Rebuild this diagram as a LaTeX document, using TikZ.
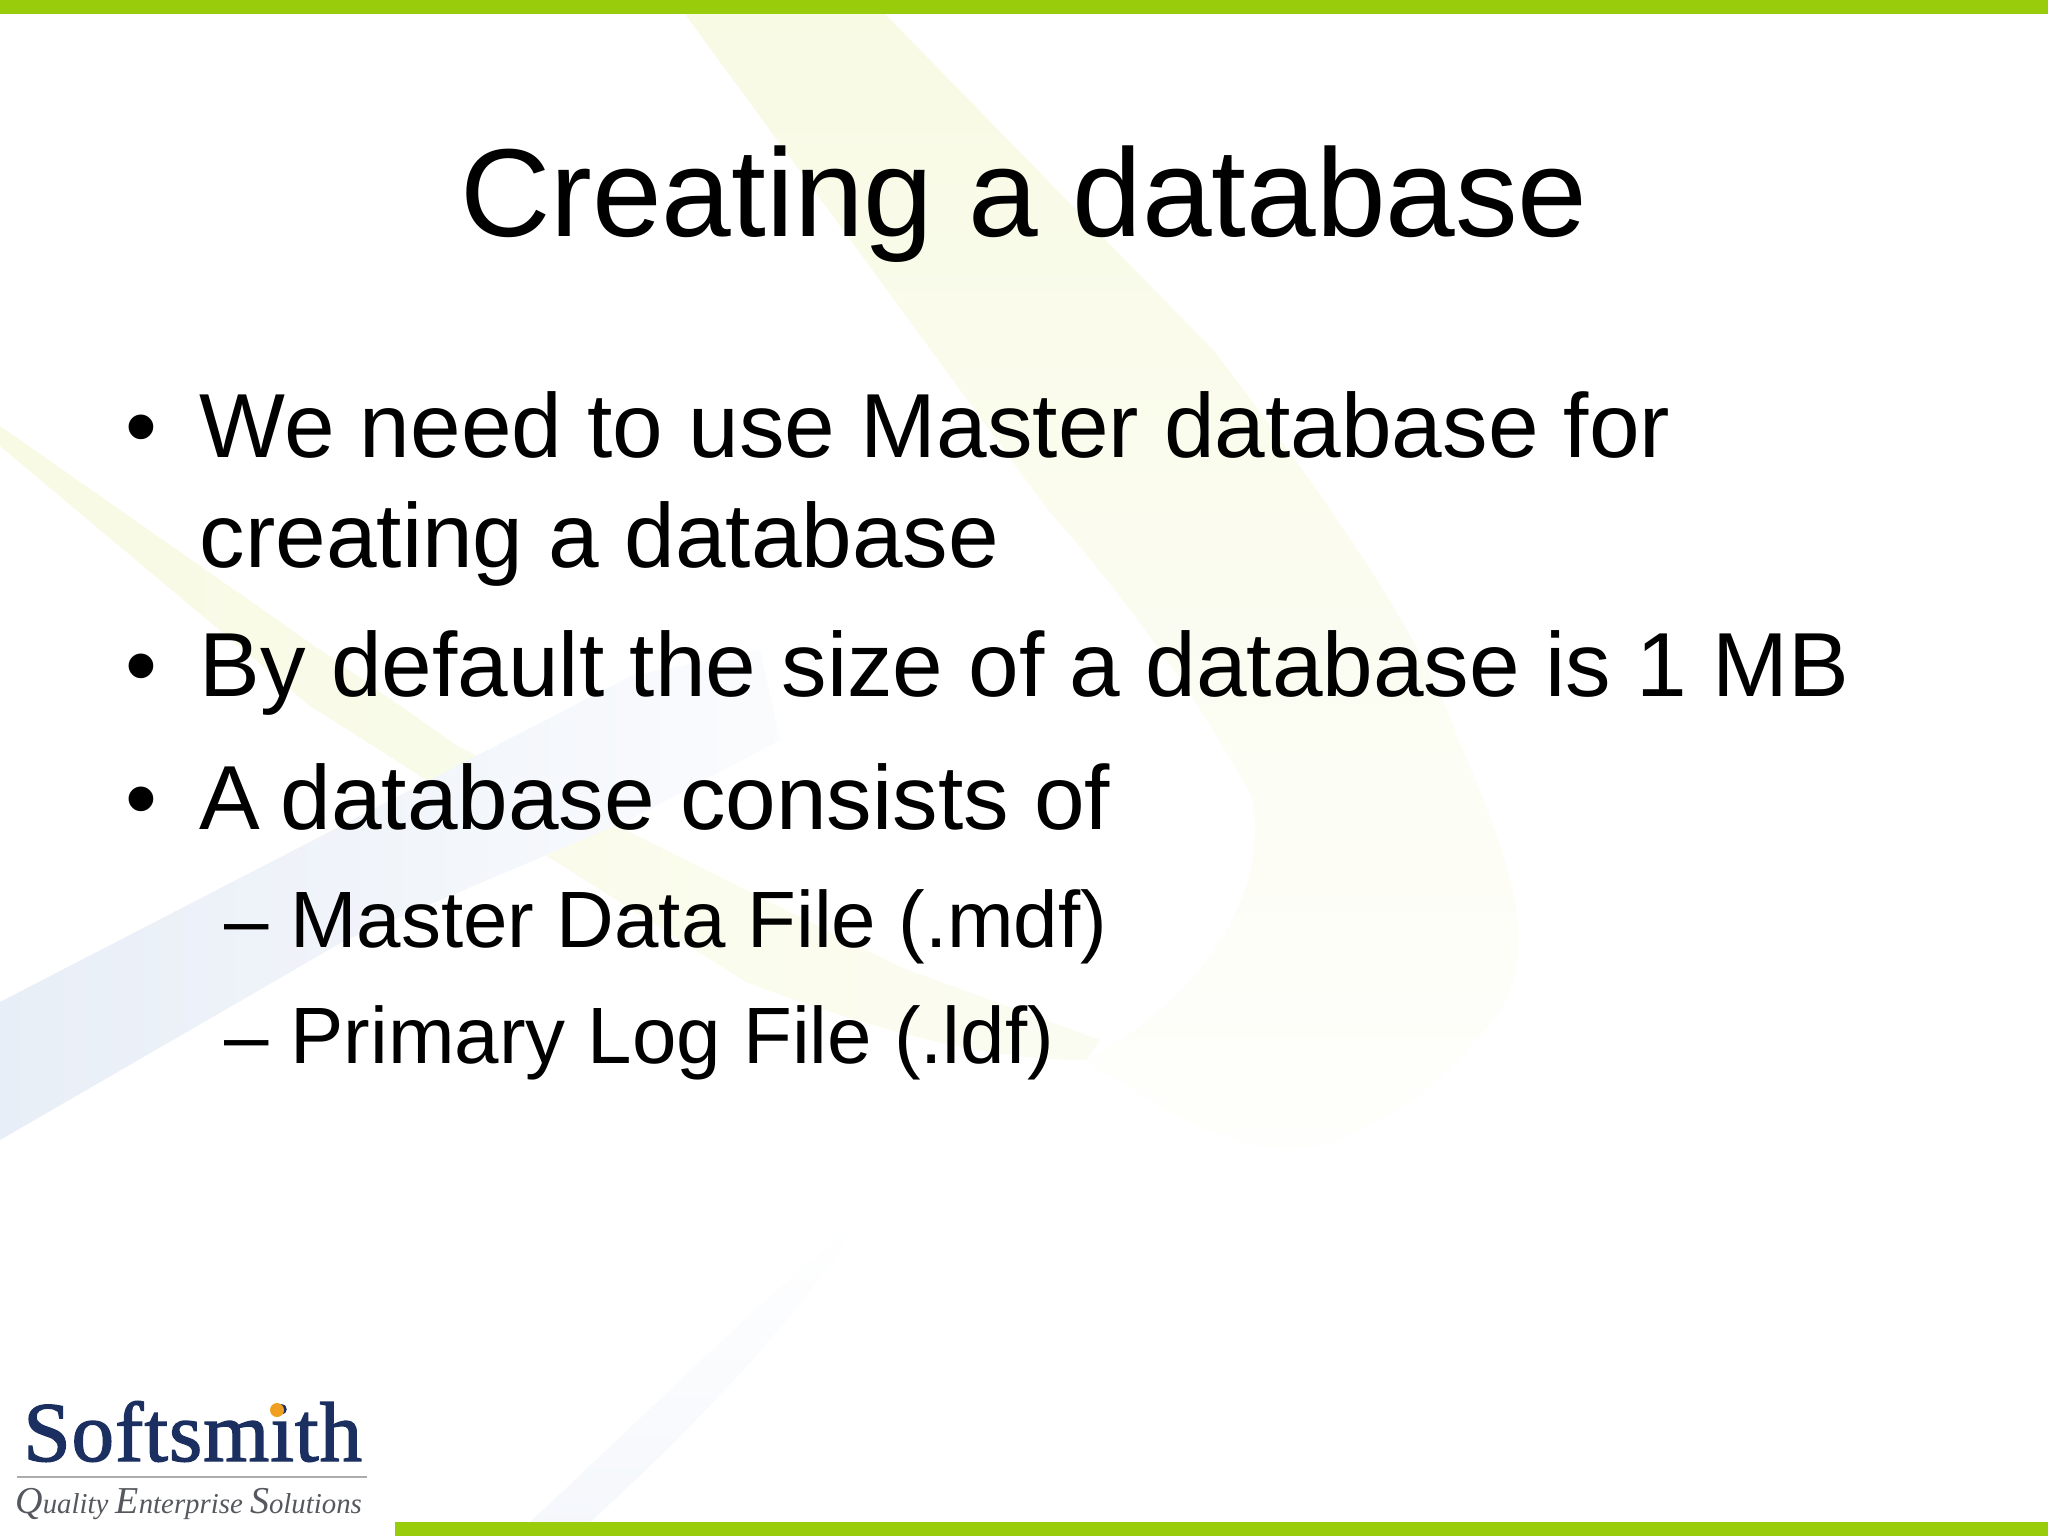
\documentclass[tikz,border=0pt]{standalone}
\usepackage{fontspec}
\usepackage{xcolor}
\setmainfont{Liberation Sans}
\newfontfamily\logofont[LetterSpace=1.2, FakeBold=1.6]{Liberation Serif}
\newfontfamily\taglinefont{Liberation Serif}
\usetikzlibrary{positioning}
\definecolor{barGreen}{HTML}{99CC0A}
\definecolor{swooshYellow}{HTML}{F8FAE4}
\definecolor{swooshBlue}{HTML}{E8EEF7}
\definecolor{logoNavy}{HTML}{1B3060}
\definecolor{logoGrey}{HTML}{55585E}
\definecolor{logoOrange}{HTML}{F0A020}

\begin{document}
\begin{tikzpicture}[x=0.5pt, y=-0.5pt,
    titletext/.style={inner sep=0pt, anchor=base, font=\fontsize{62.6}{70}\selectfont},
    bodytext/.style={inner sep=0pt, anchor=base west, font=\fontsize{45.5}{52}\selectfont},
    subtext/.style={inner sep=0pt, anchor=base west, font=\fontsize{39.95}{46}\selectfont}]
  \useasboundingbox (0,0) rectangle (2048,1536);
  \fill[white] (0,0) rectangle (2048,1536);

  \shade[shading angle=150, top color=swooshYellow, bottom color=swooshYellow!10!white]
    (685,14) -- (885,14) -- (1214,351) .. controls (1320,490) and (1420,630) .. (1456,734)
    .. controls (1510,860) and (1540,940) .. (1500,1010)
    .. controls (1440,1090) and (1400,1110) .. (1341,1140)
    .. controls (1260,1170) and (1180,1120) .. (1086,1060)
    .. controls (1200,1000) and (1270,900) .. (1252,797)
    .. controls (1200,700) and (1120,590) .. (1048,510) -- cycle;
  \shade[left color=swooshYellow, right color=swooshYellow!50!white]
    (0,426) -- (0,446) -- (310,706) -- (746,982) .. controls (900,1040) and (1000,1060) .. (1086,1060)
    -- (1100,1040) -- (900,967) -- (459,747) -- cycle;
  \shade[left color=swooshBlue, right color=swooshBlue!20!white]
    (0,1002) -- (0,1140) -- (344,941) -- (631,819) -- (780,740) -- (760,650) -- (631,676) -- cycle;
  \shade[bottom color=swooshBlue!45!white, top color=white]
    (530,1522) .. controls (640,1420) and (760,1300) .. (860,1220)
    .. controls (790,1330) and (680,1440) .. (590,1522) -- cycle;

  \fill[barGreen] (0,0) rectangle (2048,14);
  \fill[barGreen] (395,1522) rectangle (2048,1536);

  \node[titletext] (title) at (1024,236) {Creating a database};

  \node[bodytext] (needdot) at (125,457) {•};
  \node[bodytext] (need) at (199.5,457) {We need to use Master database for};
  \node[bodytext] (need2) at (199.5,567) {creating a database};
  \node[bodytext] (sizedot) at (125,696) {•};
  \node[bodytext] (size) at (199.5,696) {By default the size of a database is 1 MB};
  \node[bodytext] (partsdot) at (125,829) {•};
  \node[bodytext] (parts) at (199.5,829) {A\hspace{-2.6pt} database consists of};
  \node[subtext] (mdfdash) at (224,947) {–};
  \node[subtext] (mdf) at (290,947) {Master Data File (.mdf)};
  \node[subtext] (ldfdash) at (224,1063) {–};
  \node[subtext] (ldf) at (290,1063) {Primary Log File (.ldf)};

  \node[inner sep=0pt, anchor=base west, text=logoNavy, font=\logofont\fontsize{42.5}{50}\selectfont] (logo) at (23,1461) {Softsmith};
  \fill[logoOrange] (277,1410) circle (7);
  \draw[logoGrey!50!white, line width=0.6pt] (17,1477) -- (367,1477);
  \node[inner sep=0pt, anchor=base west, text=logoGrey, font=\taglinefont\itshape\fontsize{14.4}{20}\selectfont] (tagline) at (15,1513)
    {{\fontsize{19}{20}\selectfont Q}uality {\fontsize{19}{20}\selectfont E}nterprise {\fontsize{19}{20}\selectfont S}olutions};
\end{tikzpicture}
\end{document}
